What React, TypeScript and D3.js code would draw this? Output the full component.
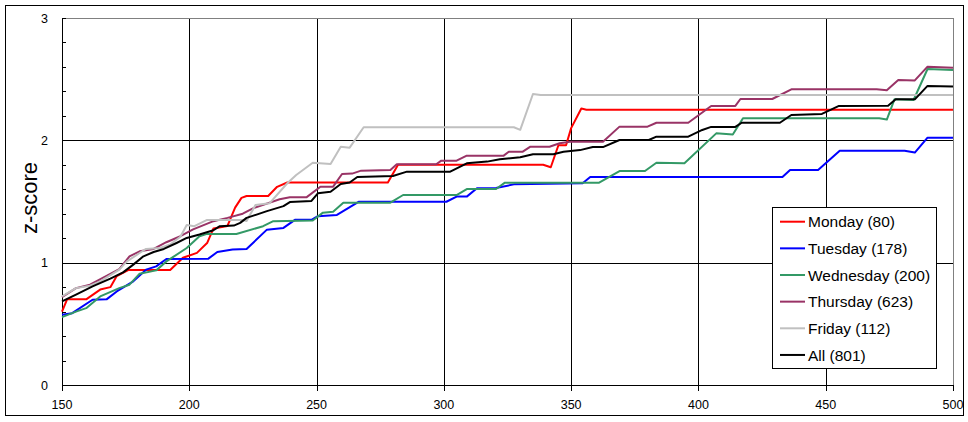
import * as React from 'react';
import * as d3 from 'd3';

// data (x, z-score)
const mondayPts: [number, number][] = [
  [150, 0.6], [152, 0.7], [159.5, 0.7], [165, 0.78], [169, 0.8], [171.5, 0.89], [176, 0.94],
  [192.5, 0.94], [197.5, 1.04], [203, 1.08], [207, 1.16], [209.5, 1.28], [215, 1.3], [218, 1.45],
  [220.5, 1.53], [222.5, 1.545], [231, 1.545], [234.5, 1.62], [238.5, 1.655], [278, 1.655],
  [282, 1.8], [339, 1.8], [342, 1.78], [345, 1.96], [348, 1.96], [350, 2.1], [354, 2.26],
  [356, 2.25], [500, 2.25],
];
const tuesdayPts: [number, number][] = [
  [150, 0.574], [154, 0.587], [162, 0.697], [167.5, 0.7], [171.5, 0.765], [178, 0.847],
  [183, 0.943], [187, 0.97], [191, 1.03], [207.5, 1.033], [211, 1.087], [217, 1.107],
  [222.5, 1.112], [230.5, 1.27], [237, 1.284], [241.5, 1.35], [248, 1.35], [250.5, 1.38],
  [258, 1.39], [265.5, 1.485], [266.5, 1.498], [301, 1.498], [305, 1.54], [309, 1.54],
  [313, 1.608], [320.5, 1.61], [327.5, 1.64], [354.5, 1.649], [357.5, 1.7], [433, 1.7],
  [436, 1.758], [447, 1.758], [455.5, 1.915], [481, 1.915], [485, 1.9], [490, 2.022], [500, 2.022],
];
const wednesdayPts: [number, number][] = [
  [150, 0.555], [155.5, 0.6], [159.5, 0.628], [165, 0.724], [172.5, 0.792], [176.5, 0.82],
  [180.5, 0.91], [187, 0.937], [191, 1.01], [199, 1.12], [204, 1.216], [207, 1.235],
  [218.5, 1.235], [229, 1.298], [233, 1.339], [248.5, 1.345], [252.5, 1.409], [256.5, 1.417],
  [260.5, 1.49], [279, 1.49], [284, 1.553], [305, 1.553], [309, 1.602], [320.5, 1.602],
  [324, 1.654], [361, 1.654], [369, 1.749], [379, 1.749], [383.5, 1.817], [394.5, 1.812],
  [407, 2.057], [413.5, 2.047], [417.5, 2.18], [471, 2.18], [474, 2.17], [477, 2.335],
  [484.5, 2.33], [490, 2.583], [500, 2.575],
];
const thursdayPts: [number, number][] = [
  [150, 0.719], [155.5, 0.792], [161, 0.82], [167.5, 0.893], [172.5, 0.948], [176.5, 1.052],
  [180.5, 1.093], [186, 1.112], [191, 1.167], [196.5, 1.216], [201.5, 1.272], [209.5, 1.339],
  [215, 1.366], [221, 1.4], [225, 1.444], [235.5, 1.518], [239.5, 1.534], [246, 1.534],
  [251.5, 1.621], [256.5, 1.621], [260, 1.725], [264, 1.728], [267.5, 1.752], [279, 1.757],
  [281.5, 1.804], [297, 1.804], [299, 1.834], [305, 1.834], [309, 1.875], [323.5, 1.875],
  [325.5, 1.907], [331, 1.907], [334, 1.948], [341.5, 1.948], [345.5, 1.976], [349.5, 1.989],
  [362.5, 1.989], [369, 2.112], [380, 2.112], [383.5, 2.144], [396, 2.144], [405, 2.281],
  [414.5, 2.281], [416.5, 2.338], [429, 2.338], [436.5, 2.417], [470, 2.417], [474, 2.41],
  [478.5, 2.493], [485, 2.49], [490, 2.602], [500, 2.594],
];
const fridayPts: [number, number][] = [
  [150, 0.724], [155.5, 0.792], [161, 0.811], [165, 0.847], [170, 0.91], [172.5, 0.943],
  [175.5, 1.011], [180.5, 1.079], [183, 1.112], [188.5, 1.12], [192.5, 1.148], [196.5, 1.212],
  [199, 1.308], [202, 1.298], [207, 1.349], [221, 1.349], [222.5, 1.34], [226, 1.471],
  [231.5, 1.485], [238.5, 1.649], [242, 1.717], [248.5, 1.817], [255.5, 1.807], [259.5, 1.948],
  [263, 1.94], [268.5, 2.107], [327.5, 2.107], [330, 2.086], [335, 2.379], [338, 2.37], [500, 2.37],
];
const allPts: [number, number][] = [
  [150, 0.683], [155.5, 0.738], [162, 0.806], [169, 0.869], [174, 0.921], [178, 0.984],
  [182, 1.052], [186, 1.087], [190, 1.112], [195, 1.161], [199, 1.202], [204, 1.23],
  [209.5, 1.265], [212, 1.298], [217.5, 1.303], [220, 1.325], [222.5, 1.366], [230.5, 1.421],
  [237, 1.462], [239.5, 1.495], [248, 1.505], [250.5, 1.567], [255.5, 1.58], [259.5, 1.643],
  [263, 1.655], [266, 1.7], [280, 1.709], [285.5, 1.744], [302.5, 1.744], [309, 1.812],
  [317, 1.826], [322, 1.845], [330, 1.861], [335, 1.886], [343, 1.886], [347, 1.907],
  [353.5, 1.92], [358.5, 1.945], [362.5, 1.945], [369, 2.003], [380.5, 2.003], [383.5, 2.03],
  [396, 2.03], [401.5, 2.085], [405, 2.11], [414.5, 2.11], [417, 2.144], [432, 2.144],
  [436.5, 2.207], [448.5, 2.216], [455, 2.28], [474.5, 2.283], [477.5, 2.335], [485, 2.335],
  [490, 2.445], [500, 2.44],
];

const seriesNames = ['Monday', 'Tuesday', 'Wednesday', 'Thursday', 'Friday', 'All'];
const seriesCounts = [80, 178, 200, 623, 112, 801];
const seriesData = [mondayPts, tuesdayPts, wednesdayPts, thursdayPts, fridayPts, allPts];
const seriesColors = ['#ff0000', '#0000ff', '#339966', '#993366', '#c0c0c0', '#000000'];

const xTicks = [150, 200, 250, 300, 350, 400, 450, 500];
const yTicks = [0, 1, 2, 3];
const yMinorTicks = d3.range(0, 3.001, 0.2);

const font = 'Liberation Sans, Arial, sans-serif';

export default function App() {
  const W = 968;
  const H = 422;
  const left = 62, right = 953, top = 18, bottom = 385;

  const x = d3.scaleLinear().domain([150, 500]).range([left, right]);
  const y = d3.scaleLinear().domain([0, 3]).range([bottom, top]);
  const line = d3.line<[number, number]>().x(d => x(d[0])).y(d => y(d[1]));
  const px = (v: number) => Math.round(v) + 0.5;

  const legX = 772.5, legY = 207.5, legW = 164, legH = 161, rowH = 26.65;

  return (
    <svg width={W} height={H} style={{ position: 'absolute', left: 0, top: 0, background: '#fff' }}
      fontFamily={font}>
      <rect x={5.5} y={5.5} width={958} height={410} fill="#fff" stroke="#000" shapeRendering="crispEdges" />

      <g shapeRendering="crispEdges" stroke="#000" strokeWidth={1}>
        {xTicks.slice(1, -1).map(t => (
          <line key={'gx' + t} x1={px(x(t))} x2={px(x(t))} y1={top} y2={bottom} />
        ))}
        {yTicks.slice(1, -1).map(t => (
          <line key={'gy' + t} x1={left} x2={right} y1={px(y(t))} y2={px(y(t))} />
        ))}
        <line x1={left} x2={right + 1} y1={px(top)} y2={px(top)} stroke="#808080" />
        <line x1={px(right)} x2={px(right)} y1={top} y2={bottom} stroke="#808080" />
        <line x1={px(left)} x2={px(left)} y1={top} y2={bottom + 1} />
        <line x1={left} x2={right + 1} y1={px(bottom)} y2={px(bottom)} />
        {xTicks.map(t => (
          <line key={'tx' + t} x1={px(x(t))} x2={px(x(t))} y1={bottom} y2={bottom + 6} />
        ))}
        {yMinorTicks.map(t => (
          <line key={'ty' + t} x1={left} x2={left + 4} y1={px(y(t))} y2={px(y(t))} />
        ))}
      </g>

      {xTicks.map(t => (
        <text key={'lx' + t} x={x(t)} y={409} textAnchor="middle" fontSize={12.5} fill="#000">{t}</text>
      ))}
      {yTicks.map(t => (
        <text key={'ly' + t} x={48} y={y(t) + 4.6} textAnchor="end" fontSize={12.5} fill="#000">{t}</text>
      ))}
      <text transform="translate(37,198) rotate(-90)" textAnchor="middle" fontSize={22} fill="#000">z-score</text>

      <g fill="none" strokeWidth={2} strokeLinejoin="round">
        {seriesData.map((pts, i) => (
          <path key={seriesNames[i]} d={line(pts) || ''} stroke={seriesColors[i]} />
        ))}
      </g>

      <g>
        <rect x={legX} y={legY} width={legW} height={legH} fill="#fff" stroke="#000" shapeRendering="crispEdges" />
        {seriesNames.map((name, i) => {
          const ry = legY + 14.2 + i * rowH;
          return (
            <g key={'leg' + name}>
              <line x1={780} x2={805} y1={ry} y2={ry} stroke={seriesColors[i]} strokeWidth={2} />
              <text x={808} y={ry + 5.6} fontSize={15.5} fill="#000">{`${name} (${seriesCounts[i]})`}</text>
            </g>
          );
        })}
      </g>
    </svg>
  );
}
